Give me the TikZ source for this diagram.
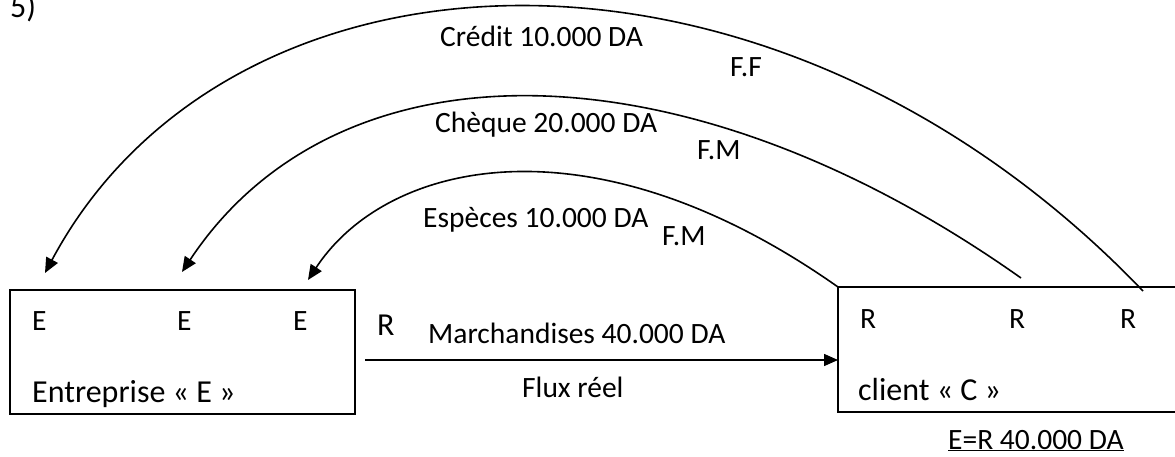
\documentclass[tikz,border=0pt]{standalone}
\usepackage{fontspec}
\setmainfont{Carlito}
\usetikzlibrary{arrows.meta}
\begin{document}
\begin{tikzpicture}[x=1pt,y=-1pt,
  lbl/.style={anchor=base west, inner sep=0pt, font=\fontsize{29.5}{34}\selectfont},
  big/.style={anchor=base west, inner sep=0pt, font=\fontsize{32}{38}\selectfont},
  flow/.style={line width=1.6pt, -{Triangle[length=15pt,width=13pt]}},
  boxline/.style={line width=2pt}]
\useasboundingbox (0,0) rectangle (1175,457);
% boxes
\node[draw, boxline, anchor=north west, minimum width=345pt, minimum height=124pt, inner sep=0pt] (boxE) at (9,289) {};
\coordinate (cNW) at (838,287);
\coordinate (cSW) at (838,412);
\coordinate (cNE) at (1185,287);
\coordinate (cSE) at (1185,412);
\draw[boxline] (cNE) -- (cNW) -- (cSW) -- (cSE);
% labels
\node[big] (five) at (10,18) {5)};
\node[lbl] (e1) at (32,330) {E};
\node[lbl] (e2) at (177,330) {E};
\node[lbl] (e3) at (293,330) {E};
\node[lbl] (r1) at (860,328) {R};
\node[lbl] (r2) at (1009,328) {R};
\node[lbl] (r3) at (1120,328) {R};
\node[big] (rout) at (377,335) {R};
\node[big] (entr) at (32,402) {Entreprise « E »};
\node[big] (cli) at (858,400) {client « C »};
\node[lbl] (march) at (428,343) {Marchandises 40.000 DA};
\node[lbl] (flux) at (522,397) {Flux réel};
\node[lbl] (cred) at (440,47) {Crédit 10.000 DA};
\node[lbl] (ff) at (730,77) {F.F};
\node[lbl] (cheq) at (435,133) {Chèque 20.000 DA};
\node[lbl] (fm1) at (697,160) {F.M};
\node[lbl] (esp) at (423,227) {Espèces 10.000 DA};
\node[lbl] (fm2) at (662,245) {F.M};
\node[lbl] (eqr) at (948,449) {\underline{E=R 40.000 DA}};
% curve endpoints
\coordinate (s1) at (1143,291);
\coordinate (t1) at (45,273);
\coordinate (s2) at (1021,278);
\coordinate (t2) at (182,272);
\coordinate (t3) at (308,280);
\draw[flow] (s1) .. controls (770,-98) and (229,-71) .. (t1);
\draw[flow] (s2) .. controls (683,39) and (338,37) .. (t2);
\draw[flow] (cNW) .. controls (591,113) and (387,160) .. (t3);
% real flow
\coordinate (h1) at (365,360);
\coordinate (h2) at (838,360);
\draw[line width=1.5pt, -{Triangle[length=14pt,width=12pt]}] (h1) -- (h2);
\end{tikzpicture}
\end{document}
